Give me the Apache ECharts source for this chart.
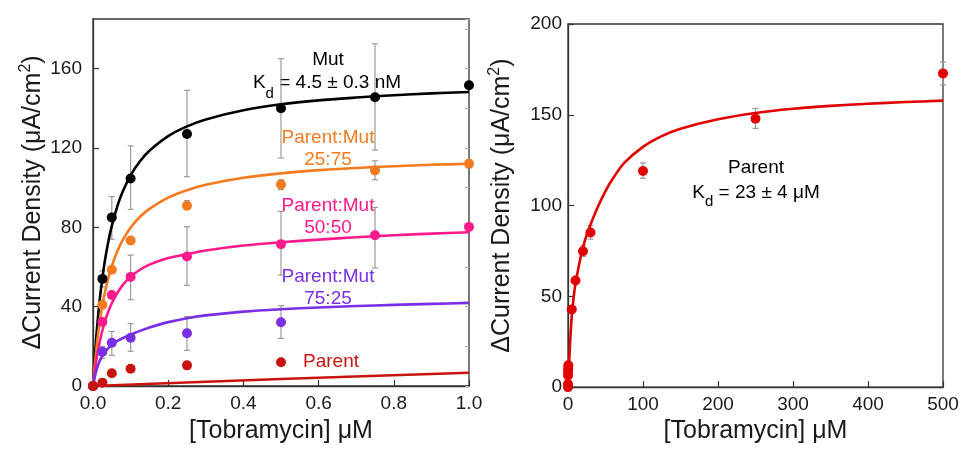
<!DOCTYPE html>
<html>
<head>
<meta charset="utf-8">
<script src="https://cdn.jsdelivr.net/npm/echarts@6/dist/echarts.min.js"></script>
<style>
html, body { margin: 0; padding: 0; background: #fff; }
#main { width: 963px; height: 449px; }
</style>
</head>
<body>
<div id="main"></div>
<script>
// left panel: nM-range titration, concentrations in uM
const concLeft = [0, 0.025, 0.05, 0.1, 0.25, 0.5, 0.75, 1.0]
const mutPts = [0, 54, 85, 104.6, 127, 140, 145.6, 151.6]
const mix25Pts = [0, 40.9, 58.6, 73.3, 90.9, 101.6, 108.6, 112]
const mix50Pts = [0, 32.3, 45.9, 55, 65.3, 71.5, 76, 80.2]
const mix75Pts = [0, 17.3, 21.8, 24.3, 26.6, 32.1, null, null]
const parentPts = [0, 1.7, 6.4, 8.7, 10.4, 12, null, null]

// error bars [low, high] per concentration
const mutErr = [null, [50, 58], [74, 95.5], [89, 121], [105.5, 149], [115, 165], [119, 172.5], null]
const mix25Err = [null, null, null, null, [89, 93.5], [99, 104], [104, 113.5], [110, 114]]
const mix50Err = [null, null, null, [43.5, 66], [50.7, 80.3], [56, 88], [59.5, 90], null]
const mix75Err = [null, [14, 20], [15.5, 27.5], [17.5, 31.5], [18, 35], [24, 40.5], null, null]

// fitted curves
const fitX = [0, 0.0025, 0.005, 0.01, 0.015, 0.02, 0.03, 0.04, 0.05, 0.065, 0.08, 0.1, 0.125, 0.15, 0.2, 0.25, 0.3, 0.4, 0.5, 0.6, 0.7, 0.8, 0.9, 1.0]
const mutFit = [0, 8, 15.2, 27.7, 38.1, 47, 61.2, 72.1, 80.7, 90.8, 98.4, 106.2, 113.3, 118.6, 126, 130.9, 134.4, 139, 142, 144, 145.4, 146.6, 147.5, 148.2]
const mix25Fit = [0, 5.9, 11.1, 20.6, 28.4, 35, 45.7, 53.9, 60.5, 68.1, 73.9, 79.8, 85.3, 89.3, 95, 98.7, 101.4, 105, 107.2, 108.8, 109.9, 110.8, 111.5, 112]
const mix50Fit = [0, 4.1, 7.8, 14.2, 19.5, 24.1, 31.5, 37.2, 41.7, 47, 51.1, 55.2, 58.6, 61.2, 64.5, 66.5, 68.3, 70.8, 72.5, 73.8, 75, 76, 76.8, 77.5]
const mix75Fit = [0, 2.5, 4.8, 8.5, 11.3, 13.5, 16.8, 19, 20.7, 22.7, 24.2, 25.8, 27.8, 29.5, 32.2, 34.2, 35.6, 37.5, 38.7, 39.6, 40.3, 40.9, 41.4, 41.9]
const parentFitX = [0, 0.5, 1.0]
const parentFitLeft = [0, 3.5, 6.7]

// right panel: uM-range titration of the parent
const concRight = [0, 0.025, 0.05, 0.1, 0.25, 0.5, 5, 10, 20, 30, 100, 250, 500]
const parentRight = [0, 1.7, 6.4, 8.7, 10.4, 12, 42.8, 58.7, 74.8, 85.2, 119, 147.8, 172.8]
const parentRightErr = [null, null, null, null, null, null, null, null, [72, 78], [81.5, 89], [115, 123.5], [142.5, 153.5], [166.5, 179]]
const rightFitX = [0, 1, 2, 3, 5, 7.5, 10, 15, 20, 25, 30, 40, 50, 60, 75, 100, 125, 150, 200, 250, 300, 350, 400, 450, 500]
const rightFit = [0, 9.5, 18, 26, 39, 49.5, 57, 68, 77, 84, 89.5, 99.5, 108, 115, 123.5, 132.3, 138.2, 142.3, 147.5, 151, 153.3, 154.9, 156.1, 157, 157.8]

const leftTicks = { x: [0, 1, 0.2], y: [0, 185, 40] }
const rightTicks = { x: [0, 500, 100], y: [0, 200, 50] }

const FONT = 'Liberation Sans, Arial, sans-serif'
const colors = {
    mut: '#000000',
    mix25: '#f47a1f',
    mix50: '#ff1a8c',
    mix75: '#7a2ee6',
    parent: '#c8140f',
    parentRight: '#e00000'
}

let myChart = echarts.init(document.getElementById('main'))

function pairs(xs, ys) {
    let out = []
    xs.forEach((x, i) => {
        if (ys[i] != null) out.push([x, ys[i]])
    })
    return out
}

function errPairs(xs, errs) {
    let out = []
    xs.forEach((x, i) => {
        if (errs[i]) out.push([x, errs[i][0], errs[i][1]])
    })
    return out
}

function renderErrorBar(params, api) {
    let x = api.value(0)
    let top = api.coord([x, api.value(2)])
    let bot = api.coord([x, api.value(1)])
    let w = 3
    let style = { stroke: '#9a9a9a', lineWidth: 1.2 }
    return {
        type: 'group',
        children: [
            { type: 'line', shape: { x1: top[0], y1: top[1], x2: bot[0], y2: bot[1] }, style: style },
            { type: 'line', shape: { x1: top[0] - w, y1: top[1], x2: top[0] + w, y2: top[1] }, style: style },
            { type: 'line', shape: { x1: bot[0] - w, y1: bot[1], x2: bot[0] + w, y2: bot[1] }, style: style }
        ]
    }
}

function fitLine(name, xs, ys, color, gi) {
    return {
        name: name, type: 'line', xAxisIndex: gi, yAxisIndex: gi === 0 ? 0 : 2,
        data: pairs(xs, ys), showSymbol: false, smooth: 0.3,
        lineStyle: { color: color, width: 2.6 }, z: 2, silent: true
    }
}

function errSeries(name, xs, errs, gi) {
    return {
        name: name, type: 'custom', xAxisIndex: gi, yAxisIndex: gi === 0 ? 0 : 2,
        data: errPairs(xs, errs), encode: { x: 0, y: [1, 2] },
        renderItem: renderErrorBar, z: 1, silent: true
    }
}

function dots(name, xs, ys, color, gi) {
    return {
        name: name, type: 'scatter', xAxisIndex: gi, yAxisIndex: gi === 0 ? 0 : 2,
        data: pairs(xs, ys), symbolSize: 10,
        itemStyle: { color: color, opacity: 1 }, z: 3
    }
}

const axisLineStyle = { lineStyle: { color: '#333', width: 1.3 } }
const tickStyle = { inside: true, length: 6, lineStyle: { color: '#333', width: 1.2 } }
const labelStyle = { fontSize: 19, color: '#1a1a1a', fontFamily: FONT }
const yName = '{a|ΔCurrent Density (μA/cm}{s|2}{a|)}'
const yNameStyle = {
    fontSize: 25, color: '#1a1a1a', fontFamily: FONT,
    rich: {
        a: { fontSize: 25, fontFamily: FONT, color: '#1a1a1a', lineHeight: 30 },
        s: { fontSize: 16, fontFamily: FONT, color: '#1a1a1a', lineHeight: 14, verticalAlign: 'top' }
    }
}
const xNameStyle = { fontSize: 25, color: '#1a1a1a', fontFamily: FONT }

let option = {
    animation: false,
    backgroundColor: '#fff',
    grid: [
        { left: 93, right: 494, top: 19, bottom: 62, show: true, borderColor: '#333', borderWidth: 1.3 },
        { left: 568, right: 20, top: 24, bottom: 57, show: true, borderColor: '#333', borderWidth: 1.3 }
    ],
    xAxis: [{
        type: 'value', gridIndex: 0,
        min: leftTicks.x[0], max: leftTicks.x[1], interval: leftTicks.x[2],
        axisLine: axisLineStyle, axisTick: tickStyle, splitLine: { show: false },
        axisLabel: Object.assign({ margin: 8, formatter: v => v.toFixed(1) }, labelStyle),
        name: '[Tobramycin] μM', nameLocation: 'middle', nameGap: 33, nameTextStyle: xNameStyle
    }, {
        type: 'value', gridIndex: 1,
        min: rightTicks.x[0], max: rightTicks.x[1], interval: rightTicks.x[2],
        axisLine: axisLineStyle, axisTick: tickStyle, splitLine: { show: false },
        axisLabel: Object.assign({ margin: 8 }, labelStyle),
        name: '[Tobramycin] μM', nameLocation: 'middle', nameGap: 31, nameTextStyle: xNameStyle
    }],
    yAxis: [{
        type: 'value', gridIndex: 0,
        min: leftTicks.y[0], max: leftTicks.y[1], interval: leftTicks.y[2],
        axisLine: axisLineStyle, axisTick: tickStyle, splitLine: { show: false },
        axisLabel: Object.assign({ margin: 11, showMaxLabel: false }, labelStyle),
        name: yName, nameLocation: 'middle', nameGap: 45, nameTextStyle: yNameStyle
    }, {
        // faint minor ticks along the right edge of the left panel
        type: 'value', gridIndex: 0, position: 'right',
        min: leftTicks.y[0], max: leftTicks.y[1], interval: 20,
        axisLine: { show: false }, axisLabel: { show: false }, splitLine: { show: false },
        axisTick: { inside: true, length: 4, lineStyle: { color: '#aaa', width: 1 } }
    }, {
        type: 'value', gridIndex: 1,
        min: rightTicks.y[0], max: rightTicks.y[1], interval: rightTicks.y[2],
        axisLine: axisLineStyle, axisTick: tickStyle, splitLine: { show: false },
        axisLabel: Object.assign({ margin: 6 }, labelStyle),
        name: yName, nameLocation: 'middle', nameGap: 51, nameTextStyle: yNameStyle
    }],
    graphic: [
        { type: 'text', x: 328, y: 60, style: { text: 'Mut', fill: colors.mut, font: '19px ' + FONT, align: 'center', verticalAlign: 'middle' } },
        {
            type: 'text', x: 327, y: 83,
            style: {
                text: '{a|K}{b|d}{a| = 4.5 ± 0.3 nM}', align: 'center', verticalAlign: 'middle',
                rich: {
                    a: { fontSize: 19, fontFamily: FONT, fill: '#000', lineHeight: 36 },
                    b: { fontSize: 15, fontFamily: FONT, fill: '#000', lineHeight: 12, verticalAlign: 'bottom' }
                }
            }
        },
        { type: 'text', x: 328, y: 149, style: { text: 'Parent:Mut\n25:75', fill: colors.mix25, font: '19px ' + FONT, lineHeight: 22.5, align: 'center', verticalAlign: 'middle' } },
        { type: 'text', x: 328, y: 217, style: { text: 'Parent:Mut\n50:50', fill: colors.mix50, font: '19px ' + FONT, lineHeight: 22, align: 'center', verticalAlign: 'middle' } },
        { type: 'text', x: 328, y: 288, style: { text: 'Parent:Mut\n75:25', fill: colors.mix75, font: '19px ' + FONT, lineHeight: 22, align: 'center', verticalAlign: 'middle' } },
        { type: 'text', x: 303, y: 362, style: { text: 'Parent', fill: colors.parent, font: '19px ' + FONT, align: 'left', verticalAlign: 'middle' } },
        { type: 'text', x: 756, y: 168, style: { text: 'Parent', fill: '#000', font: '19px ' + FONT, align: 'center', verticalAlign: 'middle' } },
        {
            type: 'text', x: 756, y: 193,
            style: {
                text: '{a|K}{b|d}{a| = 23 ± 4 μM}', align: 'center', verticalAlign: 'middle',
                rich: {
                    a: { fontSize: 19, fontFamily: FONT, fill: '#000', lineHeight: 32 },
                    b: { fontSize: 15, fontFamily: FONT, fill: '#000', lineHeight: 12, verticalAlign: 'bottom' }
                }
            }
        }
    ],
    series: [
        fitLine('mutFit', fitX, mutFit, colors.mut, 0),
        fitLine('mix25Fit', fitX, mix25Fit, colors.mix25, 0),
        fitLine('mix50Fit', fitX, mix50Fit, colors.mix50, 0),
        fitLine('mix75Fit', fitX, mix75Fit, colors.mix75, 0),
        fitLine('parentFit', parentFitX, parentFitLeft, colors.parent, 0),
        errSeries('mutErr', concLeft, mutErr, 0),
        errSeries('mix25Err', concLeft, mix25Err, 0),
        errSeries('mix50Err', concLeft, mix50Err, 0),
        errSeries('mix75Err', concLeft, mix75Err, 0),
        dots('Mut', concLeft, mutPts, colors.mut, 0),
        dots('Parent:Mut 25:75', concLeft, mix25Pts, colors.mix25, 0),
        dots('Parent:Mut 50:50', concLeft, mix50Pts, colors.mix50, 0),
        dots('Parent:Mut 75:25', concLeft, mix75Pts, colors.mix75, 0),
        dots('Parent', concLeft, parentPts, colors.parent, 0),

        fitLine('parentRightFit', rightFitX, rightFit, colors.parentRight, 1),
        errSeries('parentRightErr', concRight, parentRightErr, 1),
        dots('Parent (uM)', concRight, parentRight, colors.parentRight, 1)
    ]
}

myChart.setOption(option)
</script>
</body>
</html>
